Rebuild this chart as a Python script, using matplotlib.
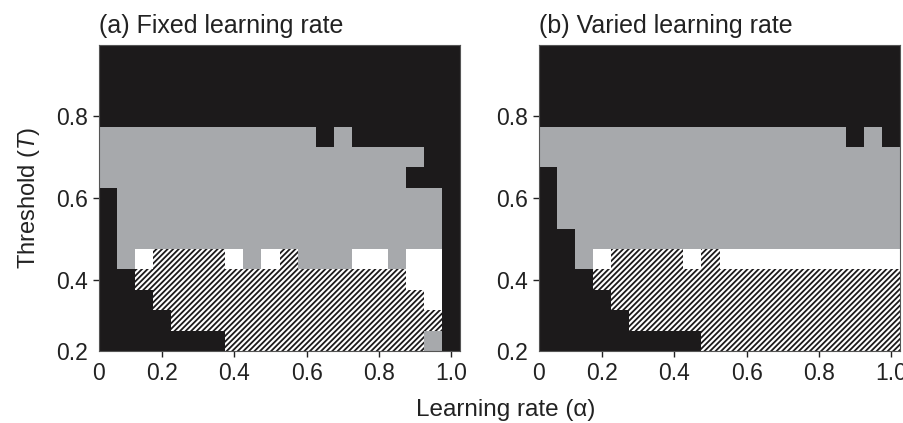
import numpy as np
import matplotlib.pyplot as plt
from matplotlib.colors import ListedColormap

plt.rcParams['font.family'] = ['Liberation Sans', 'DejaVu Sans']
plt.rcParams['mathtext.fontset'] = 'custom'
plt.rcParams['mathtext.it'] = 'Liberation Sans:italic'
plt.rcParams['hatch.linewidth'] = 1.3

# learning rate (columns) and threshold (rows, top to bottom)
alpha = [0.05, 0.10, 0.15, 0.20, 0.25, 0.30, 0.35, 0.40, 0.45, 0.50,
         0.55, 0.60, 0.65, 0.70, 0.75, 0.80, 0.85, 0.90, 0.95, 1.00]
thresholds = [0.95, 0.90, 0.85, 0.80, 0.75, 0.70, 0.65, 0.60,
              0.55, 0.50, 0.45, 0.40, 0.35, 0.30, 0.25]

# K = black, G = gray, W = white, H = hatched
fixed_map = [
    "KKKKKKKKKKKKKKKKKKKK",
    "KKKKKKKKKKKKKKKKKKKK",
    "KKKKKKKKKKKKKKKKKKKK",
    "KKKKKKKKKKKKKKKKKKKK",
    "GGGGGGGGGGGGKGKKKKKK",
    "GGGGGGGGGGGGGGGGGGKK",
    "GGGGGGGGGGGGGGGGGKKK",
    "KGGGGGGGGGGGGGGGGGGK",
    "KGGGGGGGGGGGGGGGGGGK",
    "KGGGGGGGGGGGGGGGGGGK",
    "KGWHHHHWGWHGGGWWGWWK",
    "KKHHHHHHHHHHHHHHHWWK",
    "KKKHHHHHHHHHHHHHHHWK",
    "KKKKHHHHHHHHHHHHHHHK",
    "KKKKKKKHHHHHHHHHHHGK",
]
varied_map = [
    "KKKKKKKKKKKKKKKKKKKK",
    "KKKKKKKKKKKKKKKKKKKK",
    "KKKKKKKKKKKKKKKKKKKK",
    "KKKKKKKKKKKKKKKKKKKK",
    "GGGGGGGGGGGGGGGGGKGK",
    "GGGGGGGGGGGGGGGGGGGG",
    "KGGGGGGGGGGGGGGGGGGG",
    "KGGGGGGGGGGGGGGGGGGG",
    "KGGGGGGGGGGGGGGGGGGG",
    "KKGGGGGGGGGGGGGGGGGG",
    "KKGWHHHHWHWWWWWWWWWW",
    "KKKHHHHHHHHHHHHHHHHH",
    "KKKKHHHHHHHHHHHHHHHH",
    "KKKKKHHHHHHHHHHHHHHH",
    "KKKKKKKKKHHHHHHHHHHH",
]
titles = ["(a) Fixed learning rate", "(b) Varied learning rate"]

BLACK = '#1c1a1b'
GRAY = '#a7a9ac'
codes = {'K': 0, 'G': 1, 'W': 2, 'H': 2}
cmap = ListedColormap([BLACK, GRAY, 'white'])

a = np.array(alpha)
t = np.array(thresholds)
step = 0.05
x_edges = np.append(a - step / 2, a[-1] + step / 2)
y_edges = np.append(t + step / 2, t[-1] - step / 2)

fig = plt.figure(figsize=(9.04, 4.23), dpi=100)
axes = [fig.add_axes([99 / 904, 72 / 423, 361 / 904, 306 / 423]),
        fig.add_axes([539 / 904, 72 / 423, 361 / 904, 306 / 423])]

for ax, grid, title in zip(axes, [fixed_map, varied_map], titles):
    z = np.array([[codes[c] for c in row] for row in grid])
    ax.pcolormesh(x_edges, y_edges, z, cmap=cmap, vmin=0, vmax=2)

    # hatched cells on top of the white ones
    for i, row in enumerate(grid):
        for j, c in enumerate(row):
            if c == 'H':
                ax.bar(a[j], step, bottom=t[i] - step / 2, width=step,
                       color='white', edgecolor=BLACK, hatch='//////',
                       linewidth=0)

    ax.set_xlim(x_edges[0], x_edges[-1])
    ax.set_ylim(y_edges[-1], y_edges[0])

    ax.set_xticks([x_edges[0], 0.2, 0.4, 0.6, 0.8, 1.0])
    ax.set_xticklabels(['0', '0.2', '0.4', '0.6', '0.8', '1.0'])
    ax.set_yticks([y_edges[-1], 0.4, 0.6, 0.8])
    ax.set_yticklabels(['0.2', '0.4', '0.6', '0.8'])
    ax.xaxis.get_major_ticks()[0].tick1line.set_visible(False)
    ax.yaxis.get_major_ticks()[0].tick1line.set_visible(False)
    ax.tick_params(direction='out', length=4, width=1, labelsize=16.5,
                   pad=4, colors='#222222')
    for s in ax.spines.values():
        s.set_color('#555555')
        s.set_linewidth(0.8)

    ax.set_title(title, loc='left', fontsize=18, pad=9, color='#222222')

axes[0].set_ylabel('Threshold ($T$)', fontsize=17, color='#222222', labelpad=10)
fig.text(506 / 904, 0.03, 'Learning rate (α)', ha='center', va='center',
         fontsize=17.5, color='#222222')

fig.savefig('out.png', dpi=100)
